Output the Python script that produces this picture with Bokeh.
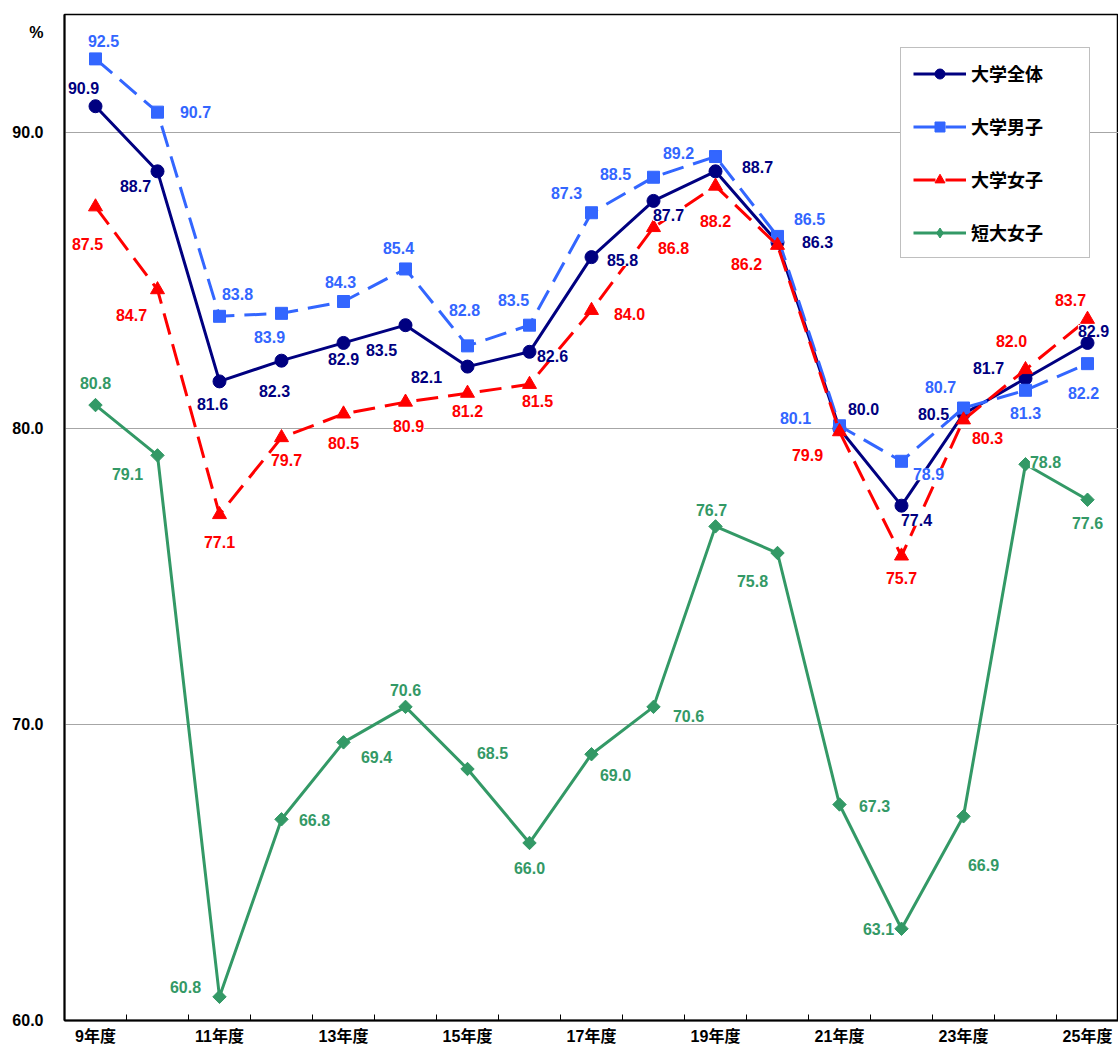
from bokeh.plotting import figure
from bokeh.models import (ColumnDataSource, LabelSet, Legend, LegendItem, FixedTicker, Range1d)
from bokeh.core.properties import value
from bokeh.embed import file_html
from bokeh.resources import INLINE
import math

# ---- data ----
categories = ["9年度", "10年度", "11年度", "12年度", "13年度", "14年度", "15年度", "16年度", "17年度",
              "18年度", "19年度", "20年度", "21年度", "22年度", "23年度", "24年度", "25年度"]
series_names = ["大学全体", "大学男子", "大学女子", "短大女子"]
zentai = [90.9, 88.7, 81.6, 82.3, 82.9, 83.5, 82.1, 82.6, 85.8, 87.7, 88.7, 86.3, 80.0, 77.4, 80.5, 81.7, 82.9]
danshi = [92.5, 90.7, 83.8, 83.9, 84.3, 85.4, 82.8, 83.5, 87.3, 88.5, 89.2, 86.5, 80.1, 78.9, 80.7, 81.3, 82.2]
joshi = [87.5, 84.7, 77.1, 79.7, 80.5, 80.9, 81.2, 81.5, 84.0, 86.8, 88.2, 86.2, 79.9, 75.7, 80.3, 82.0, 83.7]
tandai = [80.8, 79.1, 60.8, 66.8, 69.4, 70.6, 68.5, 66.0, 69.0, 70.6, 76.7, 75.8, 67.3, 63.1, 66.9, 78.8, 77.6]
y_ticks = [60, 70, 80, 90]
y_tick_labels = ["60.0", "70.0", "80.0", "90.0"]
unit_label = "%"
unit_pos = 93.4

# ---- label placement (pixels, dx right, dy up) ----
off_zentai = [(-12, 18), (-22, -15), (-7, -23), (-7, -30), (0, -16), (-24, -25), (-41, -10), (23, -4), (31, -3),
              (15, -14), (42, 4), (40, 0), (24, 20), (15, -14), (-30, 0), (-37, 10), (6, 12)]
off_danshi = [(8, 18), (38, 0), (18, 22), (-12, -24), (-3, 20), (-7, 21), (-3, 36), (-16, 25), (-25, 20),
              (-38, 3), (-37, 4), (32, 17), (-44, 8), (27, -13), (-23, 21), (0, -23), (-4, -29)]
off_joshi = [(-8, -37), (-26, -25), (0, -27), (5, -22), (0, -29), (3, -24), (0, -18), (8, -17), (38, -4),
             (20, -20), (0, -35), (-31, -19), (-32, -23), (0, -22), (24, -18), (-14, 29), (-17, 19)]
off_tandai = [(0, 22), (-30, -19), (-34, 10), (33, -1), (33, -15), (0, 17), (25, 16), (0, -25), (24, -21),
              (35, -9), (-4, 16), (-25, -28), (35, -1), (-23, 0), (20, -49), (20, 2), (0, -23)]

NUM_FONT = "Liberation Sans"
CJK_FONT = "Noto Sans CJK JP"

p = figure(width=1118, height=1047, output_backend="svg", toolbar_location=None,
           x_range=Range1d(-0.5, 16.5), y_range=Range1d(60, 94),
           min_border_left=64, min_border_right=0, min_border_top=14, min_border_bottom=27)
p.background_fill_color = "white"
p.border_fill_color = "white"
p.outline_line_color = "black"
p.outline_line_width = 1.5

p.xgrid.visible = False
p.ygrid.ticker = FixedTicker(ticks=y_ticks)
p.ygrid.grid_line_color = "#A6A6A6"
p.ygrid.grid_line_width = 1.2

p.yaxis.ticker = FixedTicker(ticks=y_ticks + [unit_pos])
overrides = {t: s for t, s in zip(y_ticks, y_tick_labels)}
overrides[unit_pos] = unit_label
p.yaxis.major_label_overrides = overrides
p.yaxis.major_tick_in = 0
p.yaxis.major_tick_out = 0
p.yaxis.minor_tick_line_color = None
p.yaxis.axis_line_width = 2
p.yaxis.major_label_standoff = 21
p.yaxis.major_label_text_font = NUM_FONT
p.yaxis.major_label_text_font_style = "bold"
p.yaxis.major_label_text_font_size = "16px"
p.yaxis.major_label_text_color = "black"

xs = list(range(len(categories)))
p.xaxis.ticker = FixedTicker(ticks=xs[::2], minor_ticks=[i + 0.5 for i in xs[:-1]])
p.xaxis.major_label_overrides = {i: categories[i] for i in xs[::2]}
p.xaxis.major_tick_in = 0
p.xaxis.major_tick_out = 0
p.xaxis.minor_tick_in = 6
p.xaxis.minor_tick_out = 0
p.xaxis.minor_tick_line_color = "black"
p.xaxis.axis_line_width = 2
p.xaxis.major_label_standoff = 7
p.xaxis.major_label_text_font = "Liberation Sans, Noto Sans CJK JP"
p.xaxis.major_label_text_font_style = "bold"
p.xaxis.major_label_text_font_size = "16px"
p.xaxis.major_label_text_color = "black"

specs = [
    (zentai, "#000080", "solid", "circle", 13, 0.0, off_zentai, None),
    (danshi, "#3366FF", "22 10", "square", 12, 0.0, off_danshi, None),
    (joshi, "#FF0000", "22 10", "triangle", 14, 0.0, off_joshi, None),
    (tandai, "#339966", "solid", "square", 9.5, math.pi / 4, off_tandai, "diamond"),
]

items = []
sources = []
for (vals, color, dash, marker, size, ang, offs, leg_marker), name in zip(specs, series_names):
    src = ColumnDataSource(dict(x=xs, y=vals, txt=["%.1f" % v for v in vals],
                                dx=[o[0] for o in offs], dy=[o[1] for o in offs]))
    sources.append((src, color))
    lr = p.line("x", "y", source=src, line_color=color, line_width=3, line_dash=dash)
    lm = None
    if leg_marker is not None:
        # legend marker, drawn underneath the chart marker
        lm = p.scatter("x", "y", source=src, marker=leg_marker, size=12,
                       fill_color=color, line_color=color)
    sr = p.scatter("x", "y", source=src, marker=marker, size=size, angle=ang,
                   fill_color=color, line_color=color)
    items.append(LegendItem(label=name, renderers=[lr, lm if lm is not None else sr]))

for src, color in sources:
    p.add_layout(LabelSet(x="x", y="y", text="txt", source=src, x_offset="dx", y_offset="dy",
                          text_align="center", text_baseline="middle", text_color=color,
                          text_font=value(NUM_FONT), text_font_style="bold", text_font_size="16px",
                          background_fill_color="white"))

legend = Legend(items=items, location=(836, 762), orientation="vertical",
                border_line_color="#808080", border_line_width=1,
                background_fill_color="white", background_fill_alpha=1.0,
                padding=12, margin=0, spacing=27, glyph_width=53, glyph_height=25,
                label_height=25, label_width=106, label_standoff=5,
                label_text_font=CJK_FONT, label_text_font_style="bold",
                label_text_font_size="18px", label_text_color="black")
p.add_layout(legend)

open("out.html", "w").write(file_html(p, INLINE))
